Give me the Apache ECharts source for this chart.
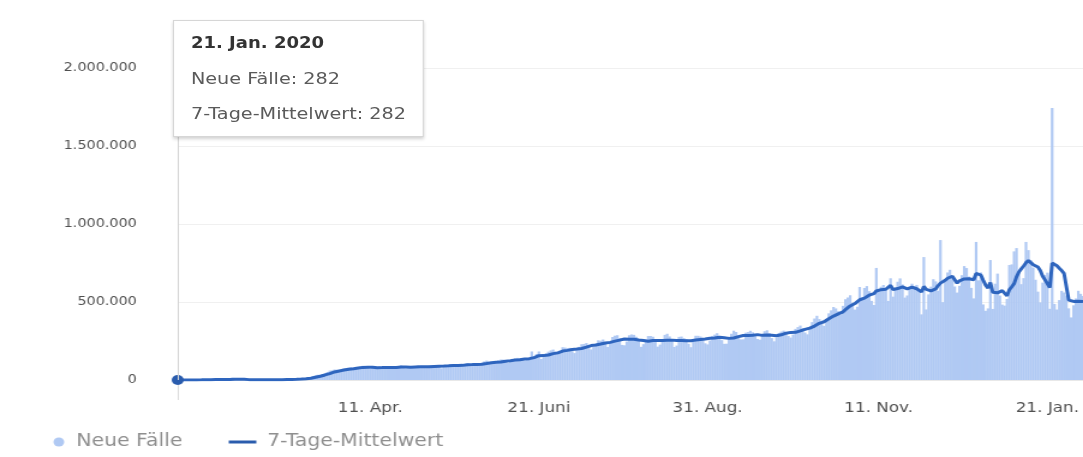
<!DOCTYPE html>
<html lang="de">
<head>
<meta charset="utf-8">
<title>Neue Fälle</title>
<script src="https://cdn.jsdelivr.net/npm/echarts@6/dist/echarts.min.js"></script>
<style>
  html, body { margin: 0; padding: 0; background: #fff; overflow: hidden; }
  /* the chart is laid out 902px wide and widened to the full 1083px page */
  #chart { width: 902px; height: 457px; transform: scaleX(1.2007); transform-origin: 0 0; }
</style>
</head>
<body>
<div id="chart"></div>
<script>
// first day of the series
const startDay = [2020, 0, 21];

// daily new cases, one line per month (21 Jan 2020 – 5 Feb 2021)
const newCases = [
  282, 267, 98, 287, 493, 684, 809, 2651, 588, 2068, 1693,
  2111, 2604, 2837, 3239, 3915, 3721, 3168, 3439, 2611, 2993, 2483, 2025, 15152, 5093, 2644, 2009, 2054, 1880, 548, 641, 1023, 1700, 491, 576, 861, 790, 1065, 1392, 1781,
  1868, 2146, 2361, 2342, 2810, 3786, 3910, 3665, 4059, 4513, 7228, 7449, 10745, 11234, 13567, 15003, 18478, 25521, 31280, 33766, 32716, 38124, 43456, 51260, 60390, 61800, 67200, 65800, 56500, 62100, 74300,
  77200, 79400, 80600, 71300, 73800, 82900, 86300, 91200, 85600, 77100, 71500, 76900, 75600, 83400, 88100, 82600, 86700, 77500, 73300, 74400, 79200, 83900, 89200, 93200, 84100, 74600, 75800, 76500, 83300, 89600,
  92500, 89800, 79200, 76800, 83600, 92100, 93400, 95100, 92300, 84600, 74800, 84500, 90700, 95300, 98400, 97200, 85400, 87900, 93100, 98600, 105200, 107500, 101900, 97800, 91200, 94700, 103100, 110400, 119200, 124300, 106200,
  102500, 113400, 120700, 126900, 131200, 130600, 116300, 108900, 118400, 134200, 137300, 141900, 139500, 133200, 125400, 139900, 141500, 182900, 140800, 166600, 182800, 134700, 147100, 171300, 181600, 189800, 195200, 182100, 168500, 170900,
  210200, 207900, 204300, 206100, 184600, 172400, 203500, 212600, 229400, 231200, 236700, 214300, 195800, 212500, 233300, 254500, 251600, 259500, 237100, 211900, 239800, 275600, 284100, 286900, 268300, 225000, 222600, 246700, 286600, 292000, 289400,
  277000, 250100, 212800, 229700, 258600, 281600, 282100, 277300, 252300, 213800, 226800, 262200, 289300, 296400, 279300, 253300, 211400, 220800, 276400, 278600, 268500, 263000, 232300, 210200, 244300, 283500, 283400, 279000, 262500, 235200, 228100,
  253300, 282700, 290900, 299800, 279800, 255500, 231900, 232700, 276200, 296500, 316100, 307600, 285400, 260000, 260500, 303100, 307200, 315500, 305400, 281800, 262500, 258400, 289700, 312600, 318700, 300600, 268500, 247900, 271600, 301800,
  310400, 316200, 302500, 281700, 272000, 291000, 327800, 339500, 348900, 332100, 304400, 292800, 330600, 371100, 394000, 411600, 390400, 358300, 346900, 388700, 427300, 446600, 467900, 458800, 441000, 418500, 475300, 517600, 528800, 543200, 494800,
  451200, 469500, 596300, 527300, 589700, 601900, 569400, 507300, 480600, 718400, 576800, 598000, 608900, 582800, 506800, 652100, 534400, 588900, 629700, 651300, 612800, 528300, 541800, 586400, 617300, 598700, 609600, 578400, 420800, 788000,
  452300, 548600, 598400, 646200, 632100, 571800, 897000, 498900, 628600, 689300, 706400, 662800, 599300, 560400, 603600, 671900, 730100, 717500, 663000, 590600, 523200, 885000, 638800, 689700, 484300, 443600, 458900, 769000, 455600, 617300, 682000,
  541400, 483200, 476900, 519300, 737000, 741200, 824500, 845600, 701800, 614300, 652900, 885000, 832400, 768100, 720800, 642600, 566400, 497300, 624200, 672900, 688300, 456400, 1744000, 487500, 451800, 512200, 571400, 560900, 541600, 459300, 401200,
  478700, 522600, 571800, 552400, 538300
];

// 7-day average, same days
const avg7 = [
  282, 275, 216, 234, 285, 352, 417, 547, 594, 821, 985,
  1265, 1509, 1813, 2071, 2538, 2796, 2799, 3034, 3133, 3165, 3129, 2992, 4765, 4612, 4665, 4573, 4494, 4414, 4197, 2382, 1971, 1409, 1191, 977, 834, 869, 787, 854, 1066,
  1364, 1558, 1741, 1897, 2163, 2478, 2746, 3003, 3245, 3550, 4219, 4849, 5758, 6985, 8349, 9967, 11671, 14541, 17977, 21240, 24367, 28200, 32400, 36500, 41000, 45900, 51500, 55700, 58100, 60700, 63900,
  66700, 69100, 71100, 71700, 73300, 76300, 78800, 80800, 81600, 82400, 82500, 81600, 79800, 78800, 79700, 79400, 80100, 80700, 80400, 79700, 79600, 79700, 80200, 82700, 84000, 83900, 83400, 82500, 82400, 83900,
  84500, 84500, 85100, 85100, 84900, 85300, 86800, 87200, 87600, 88800, 89000, 89500, 90100, 90700, 91600, 92900, 92800, 92500, 92700, 93800, 96600, 98000, 98100, 98800, 99300, 99800, 100200, 100900, 103400, 105400, 107000,
  110000, 111500, 113300, 114300, 115300, 116100, 120000, 122600, 123400, 125600, 127600, 129200, 130100, 132400, 134500, 135400, 136700, 142000, 143700, 149300, 156000, 156900, 156300, 160300, 160300, 166400, 169200, 173100, 174000, 179900,
  185600, 187400, 189800, 193000, 195200, 195000, 198400, 198700, 201900, 205700, 210300, 214900, 220500, 221900, 224900, 227800, 230800, 233700, 237600, 240000, 241100, 245500, 249000, 252200, 255500, 257200, 263000, 261100, 262000, 262500, 261500,
  259000, 256100, 255800, 252800, 250100, 249000, 253200, 253200, 253500, 253600, 253200, 253700, 253700, 255100, 255400, 255600, 254900, 253900, 255900, 253300, 251700, 251100, 251400, 251300, 254800, 255800, 257300, 259600, 259500, 263100, 265500,
  268000, 268000, 269000, 272000, 274300, 277100, 270600, 267800, 266800, 267700, 269400, 273400, 277800, 281100, 285200, 286300, 285600, 287800, 287400, 289100, 290900, 288800, 286200, 287100, 289000, 288800, 286800, 285500, 283900, 288800,
  289600, 296500, 300300, 302300, 305200, 304900, 305700, 309800, 314500, 318800, 324400, 329000, 332400, 338100, 345800, 356300, 363500, 367300, 373500, 382000, 392600, 398500, 409500, 416600, 423600, 425400, 436800, 450900, 461900, 474800, 486000,
  489900, 497200, 514500, 515900, 524600, 533000, 543600, 551600, 553200, 570700, 577700, 578900, 579900, 581800, 581800, 606300, 580000, 581700, 586200, 592300, 596600, 599600, 583900, 591300, 595400, 590900, 585000, 580100, 564700, 599900,
  580700, 570900, 570900, 576100, 583800, 605300, 620900, 627600, 639000, 652000, 660600, 665000, 668900, 620800, 635800, 642000, 647800, 649400, 649400, 648200, 642800, 683000, 678300, 672500, 639200, 607900, 589100, 624200, 562800, 559800, 558700,
  566800, 572500, 575100, 539400, 579600, 597300, 617600, 661100, 692300, 712000, 731000, 752200, 765200, 757200, 739300, 730900, 724000, 701800, 664500, 641800, 630400, 592600, 749900, 738700, 732200, 716200, 701700, 683500, 695600, 512100, 499800,
  503600, 505100, 505200, 503900, 503500
];

// days that carry an axis label
const tickDates = ['2020-04-11', '2020-06-21', '2020-08-31', '2020-11-11', '2021-01-21'];

// German month abbreviations
const monthNames = ['Jan.', 'Feb.', 'März', 'Apr.', 'Mai', 'Juni', 'Juli', 'Aug.', 'Sept.', 'Okt.', 'Nov.', 'Dez.'];

// y-axis range and step
const yMax = 2000000;
const yStep = 500000;

const seriesNames = ['Neue Fälle', '7-Tage-Mittelwert'];

// one category per day
const t0 = Date.UTC(startDay[0], startDay[1], startDay[2]);
const days = newCases.map((_, i) => new Date(t0 + i * 86400000).toISOString().slice(0, 10));

const fmtNum = v => String(Math.round(v)).replace(/\B(?=(\d{3})+(?!\d))/g, '.');
const fmtDay = iso => {
  const [y, m, d] = iso.split('-').map(Number);
  return d + '. ' + monthNames[m - 1];
};

const FONT = "'DejaVu Sans', sans-serif";
const BAR = '#b0c9f3';
const LINE = '#2a5cad';
const legendText = { color: '#8f8f8f', fontFamily: FONT, fontSize: 17, lineHeight: 20 };

const chart = echarts.init(document.getElementById('chart'), null, { renderer: 'canvas' });

chart.setOption({
  animation: false,
  grid: { left: 148, right: 0, top: 68, bottom: 77, containLabel: false },
  xAxis: {
    type: 'category',
    data: days,
    boundaryGap: false,
    axisLine: { show: true, lineStyle: { color: '#e8e8e8', width: 1 } },
    axisTick: {
      show: true,
      interval: i => i === 0,
      length: 20,
      lineStyle: { color: '#dcdcdc' }
    },
    axisLabel: {
      interval: (i, v) => tickDates.includes(v),
      formatter: v => fmtDay(v),
      color: '#505050',
      fontFamily: FONT,
      fontSize: 14,
      margin: 21
    },
    splitLine: { show: false }
  },
  yAxis: {
    type: 'value',
    min: 0,
    max: yMax,
    interval: yStep,
    axisLine: { show: false },
    axisTick: { show: false },
    axisLabel: {
      formatter: v => fmtNum(v),
      color: '#505050',
      fontFamily: FONT,
      fontSize: 12,
      margin: 34
    },
    splitLine: { lineStyle: { color: '#f0f0f0', width: 1 } }
  },
  legend: [
    {
      data: [{ name: seriesNames[0], icon: 'circle' }],
      left: 44.5, top: 432, padding: 0,
      itemWidth: 9, itemHeight: 9,
      selectedMode: false,
      textStyle: Object.assign({ padding: [0, 0, 0, 5] }, legendText)
    },
    {
      data: [{ name: seriesNames[1], icon: 'rect' }],
      left: 190.5, top: 432, padding: 0,
      itemWidth: 23, itemHeight: 3,
      selectedMode: false,
      textStyle: Object.assign({ padding: [0, 0, 0, 4] }, legendText)
    }
  ],
  tooltip: {
    trigger: 'axis',
    triggerOn: 'none',
    alwaysShowContent: true,
    transitionDuration: 0,
    position: [144, 20],
    backgroundColor: '#fff',
    borderColor: '#d6d6d6',
    borderWidth: 1,
    padding: [5, 14],
    extraCssText: 'border-radius:0;box-shadow:0 2px 3px rgba(0,0,0,0.18);',
    axisPointer: {
      type: 'line',
      lineStyle: { color: '#d4d4d4', width: 1, type: 'solid' }
    },
    formatter: params => {
      const i = params[0].dataIndex;
      const [y] = days[i].split('-');
      const rows = params.map(p =>
        '<div style="font:16px ' + FONT + ';color:#5a5a5a;line-height:35px;white-space:nowrap">' +
        p.seriesName + ': ' + fmtNum(p.value) + '</div>').join('');
      return '<div style="font:bold 15px ' + FONT + ';color:#333;line-height:35px;white-space:nowrap">' +
        fmtDay(days[i]) + ' ' + y + '</div>' + rows;
    }
  },
  series: [
    {
      name: seriesNames[0],
      type: 'bar',
      data: newCases,
      barCategoryGap: '0%',
      barWidth: 2.2,
      itemStyle: { color: BAR },
      emphasis: { disabled: true }
    },
    {
      name: seriesNames[1],
      type: 'line',
      data: avg7,
      showSymbol: false,
      symbol: 'circle',
      symbolSize: 10,
      lineStyle: { color: LINE, width: 3 },
      itemStyle: { color: LINE },
      emphasis: { scale: false, lineStyle: { width: 3 } },
      z: 3
    }
  ]
});

chart.dispatchAction({ type: 'showTip', seriesIndex: 1, dataIndex: 0 });
</script>
</body>
</html>
